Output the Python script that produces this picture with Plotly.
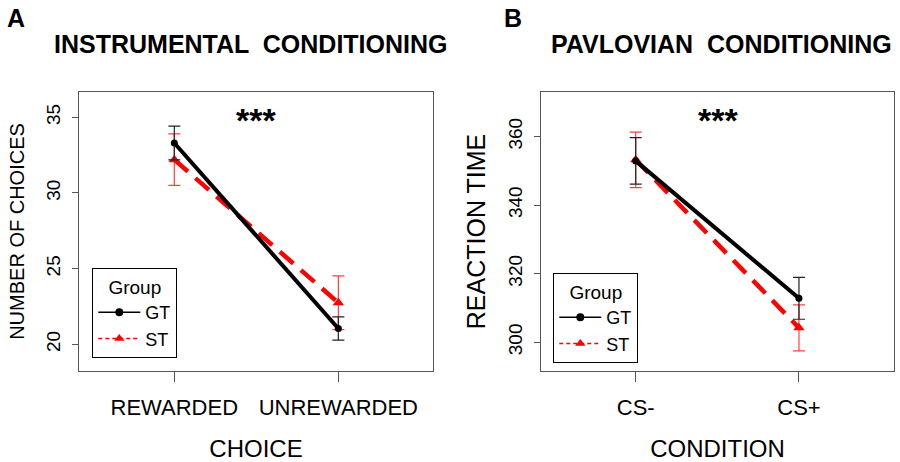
import plotly.graph_objects as go

# ---- data ----
choice_labels = ["REWARDED", "UNREWARDED"]
gt_choices = [33.3, 21.05]
gt_choices_err = [1.12, 0.77]
st_choices = [32.2, 22.75]
st_choices_err = [1.7, 1.78]

condition_labels = ["CS-", "CS+"]
gt_rt = [352.9, 312.8]
gt_rt_err = [6.8, 6.1]
st_rt = [353.2, 304.2]
st_rt_err = [8.1, 6.7]

groups = ["GT", "ST"]
FONT = "Liberation Sans, Arial, sans-serif"
W, H = 900, 462

fig = go.Figure()

def add_panel(xa, ya, legend, cats, gt, gte, st, ste):
    xs = list(range(len(cats)))
    fig.add_trace(go.Scatter(x=xs, y=st, xaxis=xa, yaxis=ya, mode="lines+markers",
                             line=dict(color="#FF0000", width=4.5, dash="18px,10px"),
                             marker=dict(symbol="triangle-up", size=10, color="#FF0000"),
                             error_y=dict(type="data", array=ste, color="#FF4040", thickness=1.2, width=6),
                             showlegend=False))
    fig.add_trace(go.Scatter(x=xs, y=gt, xaxis=xa, yaxis=ya, mode="lines+markers",
                             line=dict(color="black", width=4),
                             marker=dict(symbol="circle", size=7, color="black"),
                             error_y=dict(type="data", array=gte, color="#222222", thickness=1.2, width=6),
                             showlegend=False))
    fig.add_trace(go.Scatter(x=[None], y=[None], xaxis=xa, yaxis=ya, mode="lines+markers", name=groups[0],
                             line=dict(color="black", width=1.5),
                             marker=dict(symbol="circle", size=8, color="black"), legend=legend))
    fig.add_trace(go.Scatter(x=[None], y=[None], xaxis=xa, yaxis=ya, mode="lines+markers", name=groups[1],
                             line=dict(color="#FF0000", width=1.5, dash="4px,3px"),
                             marker=dict(symbol="triangle-up", size=9, color="#FF0000"), legend=legend))

add_panel("x", "y", "legend", choice_labels, gt_choices, gt_choices_err, st_choices, st_choices_err)
add_panel("x2", "y2", "legend2", condition_labels, gt_rt, gt_rt_err, st_rt, st_rt_err)

axis_common = dict(showgrid=False, zeroline=False, showline=True, linecolor="#555555", linewidth=1.2,
                   mirror=True, ticks="outside", tickcolor="#555555", tickwidth=1.2)

xtick_font = dict(family=FONT, size=22, color="black")
ytick_font = dict(family=FONT, size=19, color="black")
ydom = [1 - 371 / H, 1 - 92 / H]

legend_common = dict(xanchor="left", yanchor="top", bordercolor="black", borderwidth=1,
                     bgcolor="white", font=dict(family=FONT, size=18),
                     title=dict(text="Group", side="top center", font=dict(family=FONT, size=19)),
                     itemwidth=42, tracegroupgap=0)

fig.update_layout(
    width=W, height=H, margin=dict(l=0, r=0, t=0, b=0, autoexpand=False),
    paper_bgcolor="white", plot_bgcolor="white",
    font=dict(family=FONT, color="black"),
    xaxis=dict(domain=[79 / W, 433 / W], anchor="y", range=[-0.581, 1.577], tickvals=[0, 1],
               ticktext=choice_labels, ticklen=10, ticklabelstandoff=6, tickfont=xtick_font,
               title=dict(text="CHOICE", font=dict(family=FONT, size=24), standoff=21), **axis_common),
    yaxis=dict(domain=ydom, anchor="x", range=[18.24, 36.67], tickvals=[20, 25, 30, 35], tickangle=-90,
               ticklen=6, ticklabelstandoff=4, tickfont=ytick_font,
               title=dict(text="NUMBER OF CHOICES", font=dict(family=FONT, size=20), standoff=13), **axis_common),
    xaxis2=dict(domain=[540.7 / W, 894.3 / W], anchor="y2", range=[-0.582, 1.584], tickvals=[0, 1],
                ticktext=condition_labels, ticklen=10, ticklabelstandoff=6, tickfont=xtick_font,
                title=dict(text="CONDITION", font=dict(family=FONT, size=24), standoff=21), **axis_common),
    yaxis2=dict(domain=ydom, anchor="x2", range=[291.6, 373.0], tickvals=[300, 320, 340, 360], tickangle=-90,
                ticklen=6, ticklabelstandoff=4, tickfont=ytick_font,
                title=dict(text="REACTION TIME", font=dict(family=FONT, size=25), standoff=12), **axis_common),
    legend=dict(x=92.3 / W, y=1 - 268.3 / H, **legend_common),
    legend2=dict(x=553.3 / W, y=1 - 273.3 / H, **legend_common),
    showlegend=True,
)

annots = [
    dict(text="<b>A</b>", x=16 / W, y=1 - 18 / H, size=25, anchor="center"),
    dict(text="<b>B</b>", x=513 / W, y=1 - 18 / H, size=25, anchor="center"),
    dict(text="<b>INSTRUMENTAL  CONDITIONING</b>", x=250.5 / W, y=1 - 44 / H, size=25, anchor="center"),
    dict(text="<b>PAVLOVIAN  CONDITIONING</b>", x=721 / W, y=1 - 44 / H, size=25, anchor="center"),
]
for a in annots:
    fig.add_annotation(text=a["text"], x=a["x"], y=a["y"], xref="paper", yref="paper", xanchor=a["anchor"],
                       yanchor="middle", showarrow=False, font=dict(family=FONT, size=a["size"], color="black"))

fig.add_annotation(text="<b>***</b>", x=0.5, y=34.85, xref="x", yref="y", showarrow=False,
                   font=dict(family=FONT, size=34, color="black"), yanchor="middle")
fig.add_annotation(text="<b>***</b>", x=0.507, y=364.9, xref="x2", yref="y2", showarrow=False,
                   font=dict(family=FONT, size=34, color="black"), yanchor="middle")

fig.write_html("out.html", config={"displayModeBar": False},
               post_script="document.body.style.margin='0';document.body.style.overflow='hidden';")
